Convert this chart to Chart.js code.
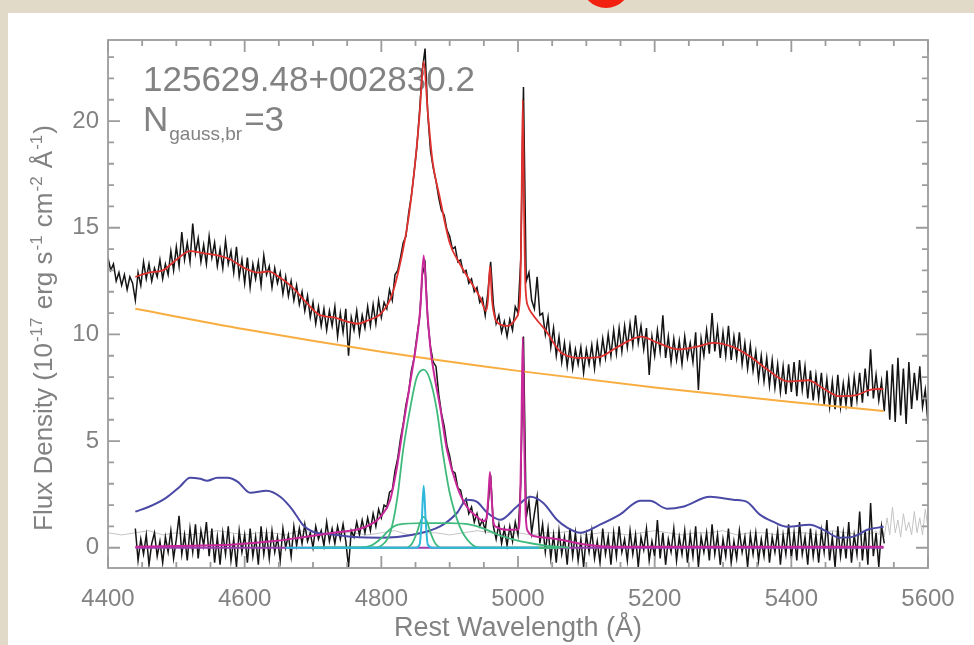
<!DOCTYPE html>
<html>
<head>
<meta charset="utf-8">
<script src="https://cdn.jsdelivr.net/npm/chart.js@4.4.1/dist/chart.umd.min.js"></script>
<style>
  html, body { margin: 0; padding: 0; }
  body { width: 974px; height: 645px; background: #e1dac8; position: relative; overflow: hidden; }
  #panel { position: absolute; left: 8px; top: 13px; width: 966px; height: 632px; background: #fff; }
  #dot { position: absolute; left: 581px; top: -44px; width: 50px; height: 52px; border-radius: 50%; background: #f2200e; }
  #c { position: absolute; left: 0; top: 0; filter: blur(0.4px); }
</style>
</head>
<body>
<div id="panel"></div>
<div id="dot"></div>
<canvas id="c" width="974" height="645"></canvas>
<script>
// ------------------------------------------------------------
// data
// ------------------------------------------------------------
const xTicks = [4400, 4600, 4800, 5000, 5200, 5400, 5600];
const yTicks = [0, 5, 10, 15, 20];

// observed spectrum, 4400..5600 every 4 A
const specStart = 4400, specStep = 4;
const specFlux = [
  13.6, 13.0, 13.3, 12.5, 12.9, 12.3, 12.8, 12.1, 12.7, 12.4,
  11.6, 12.9, 12.3, 13.4, 12.6, 13.3, 12.5, 13.1, 12.7, 13.5,
  12.6, 13.3, 12.8, 13.9, 13.0, 14.1, 13.2, 14.8, 13.5, 14.3,
  13.4, 15.2, 13.8, 14.5, 13.4, 14.2, 13.3, 14.6, 13.6, 14.3,
  13.2, 14.0, 13.1, 14.4, 13.3, 13.9, 12.9, 14.1, 12.7, 13.5,
  12.4, 13.6, 12.2, 13.3, 12.6, 13.4, 12.3, 13.7, 12.8, 13.2,
  12.2, 13.1, 12.4, 12.9, 11.9, 12.7, 11.8, 12.5, 11.6, 12.3,
  11.4, 12.0, 11.1, 11.8, 10.8, 11.5, 10.5, 11.3, 10.4, 11.2,
  10.2, 11.1, 10.4, 11.3, 9.9, 11.0, 10.1, 11.2, 9.0, 10.8,
  10.2, 11.1, 10.0, 10.9, 10.3, 11.3, 10.4, 11.4, 10.5, 11.6,
  10.8, 11.5, 11.2, 12.1, 11.6, 12.8, 13.0, 13.6, 14.3, 14.6,
  15.7, 16.5, 17.6, 18.8, 20.5, 22.4, 23.4, 20.3, 18.6, 17.8,
  17.2, 16.4, 15.8, 15.6, 14.9, 14.6, 14.0, 14.1, 13.4, 13.5,
  12.9, 13.0, 12.4, 12.6, 12.0, 12.2, 11.5, 11.7, 10.9, 12.0,
  13.4, 11.4, 10.5, 10.9, 10.1, 10.6, 9.9, 10.7, 10.2, 11.3,
  11.0, 13.5, 21.6, 12.5, 12.9, 11.6, 11.2, 12.7, 10.9, 11.0,
  10.0, 10.8, 9.4, 10.3, 9.0, 9.9, 8.7, 9.6, 8.5, 9.5,
  8.4, 9.3, 8.6, 9.4, 8.2, 9.3, 8.6, 9.5, 8.4, 9.6,
  8.7, 9.8, 8.9, 10.0, 9.0, 10.2, 9.1, 10.3, 9.2, 10.4,
  9.4, 10.5, 9.5, 10.9, 9.6, 10.4, 9.3, 10.3, 8.1, 9.9,
  9.0, 10.2, 9.2, 10.9, 8.9, 9.9, 8.7, 9.8, 8.8, 9.7,
  8.6, 9.9, 8.9, 9.6, 8.7, 10.1, 7.4, 9.8, 9.0, 10.2,
  9.1, 11.0, 9.2, 10.3, 8.9, 10.1, 9.0, 10.4, 8.8, 9.9,
  8.9, 10.1, 8.6, 9.6, 8.4, 9.5, 8.3, 9.2, 7.9, 9.0,
  7.8, 8.9, 7.6, 8.8, 7.5, 8.6, 7.3, 8.5, 7.2, 8.6,
  7.3, 8.7, 7.1, 8.8, 7.4, 8.5, 7.0, 8.3, 6.9, 8.1,
  7.0, 8.2, 6.7, 7.9, 6.6, 7.8, 6.5, 8.1, 6.6, 7.7,
  6.7, 7.9, 6.6, 8.0, 6.9, 8.2, 6.8, 8.4, 7.1, 9.3,
  7.0, 8.1, 6.9, 7.8, 6.4, 8.3, 6.0, 8.6, 5.9, 8.9,
  6.2, 8.4, 5.8, 8.7, 6.5, 8.2, 6.9, 8.5, 6.6, 7.4,
  5.8
];

// line spectrum (data minus continuum and Fe II), 4440..5536 every 4 A
const residStart = 4440, residStep = 4;
const residFlux = [
  0.9, -0.6, 0.4, -0.3, 0.6, -0.8, 0.2, 0.7, -0.4, 0.3,
  -0.7, 0.5, -0.2, 0.8, -0.5, 0.4, 1.5, -0.3, 0.6, -0.6,
  0.9, -0.2, 1.1, -0.5, 0.8, 0.1, 1.2, -0.4, 0.9, -0.7,
  0.5, -0.8, 0.7, -0.3, 1.0, -0.6, 0.4, -0.9, 0.8, -0.2,
  0.6, -0.7, 0.9, -0.4, 0.5, -0.8, 1.0, -0.3, 0.7, -0.5,
  0.8, -0.2, 0.5, -0.6, 0.9, 0.0, 0.6, -0.4, 1.0, 0.1,
  0.9, 0.2, 1.1, 0.3, 0.7, 0.0, 1.0, 0.4, 0.8, 0.1,
  1.2, 0.3, 0.9, 0.2, 1.0, 0.4, 1.1, 0.3, -0.9, 0.8,
  0.5, 1.2, 0.6, 1.3, 0.7, 1.4, 0.8, 1.6, 1.0, 1.8,
  1.4, 2.0, 1.9, 2.6, 2.7, 3.6, 4.2, 5.1, 5.8, 6.7,
  7.3, 8.3, 8.9, 9.9, 10.8, 12.8, 13.3, 10.6, 9.4, 8.7,
  8.5, 7.2, 6.3, 5.7, 4.8, 4.3, 3.6, 3.5, 2.8, 2.7,
  2.1, 2.3, 1.6, 1.9, 1.2, 1.6, 1.0, 1.3, 0.8, 1.9,
  3.4, 1.0, 0.4, 1.1, 0.2, 0.9, 0.1, 1.0, 0.3, 1.2,
  0.6, 3.0, 9.9, 1.4, 2.2, 0.7, 1.6, 2.4, 0.2, 1.1,
  -0.2, 0.9, -0.5, 0.6, -0.7, 0.8, -0.3, 0.5, -0.8, 0.9,
  -0.4, 0.7, -0.6, 0.4, -0.9, 0.6, -0.2, 0.8, -0.5, 0.3,
  -0.7, 0.9, -0.3, 0.5, -0.8, 0.7, -0.4, 1.0, -0.2, 0.4,
  -0.6, 0.8, -0.3, 0.6, -0.9, 0.5, -0.1, 0.9, -0.6, 0.3,
  -0.4, 1.3, -0.5, 0.7, -0.8, 0.4, -0.2, 0.9, -0.6, 0.5,
  -0.3, 0.8, -0.7, 0.6, -0.4, 1.0, -0.9, 0.5, -0.2, 0.7,
  -0.6, 1.1, -0.3, 0.6, -0.8, 0.4, -0.4, 0.9, -0.7, 0.3,
  -0.5, 0.8, -0.2, 0.5, -0.9, 0.6, -0.3, 0.7, -0.6, 0.4,
  -0.4, 0.9, -0.7, 0.5, -0.2, 0.8, -0.8, 0.6, -0.3, 1.1,
  -0.5, 0.7, -0.6, 1.2, -0.3, 0.5, -0.8, 0.9, -0.4, 0.6,
  -0.7, 0.8, -0.2, 1.3, -0.6, 0.5, -0.9, 1.0, -0.4, 0.7,
  -0.5, 1.2, -0.7, 0.6, -0.3, 1.7, -0.6, 0.8, -0.8, 2.1,
  -0.4, 0.7, -0.9, 1.0, 0.2
];

// light grey residual
const greyWave = [4400, 4420, 4440, 4460, 4480, 4500, 4520, 4540, 4560, 4580,
  4600, 4620, 4640, 4660, 4680, 4700, 4720, 4740, 4760, 4780,
  4800, 4820, 4840, 4860, 4880, 4900, 4920, 4940, 4960, 4980,
  5000, 5020, 5040, 5060, 5080, 5100, 5120, 5140, 5160, 5180,
  5200, 5220, 5240, 5260, 5280, 5300, 5320, 5340, 5360, 5380,
  5400, 5420, 5440, 5460, 5480, 5500, 5520,
  5524, 5528, 5532, 5536, 5540, 5544, 5548, 5552, 5556, 5560,
  5564, 5568, 5572, 5576, 5580, 5584, 5588, 5592, 5596, 5600];
const greyFlux = [0.7, 0.6, 0.7, 0.8, 0.6, 0.7, 0.6, 0.7, 0.8, 0.7,
  0.6, 0.7, 0.7, 0.6, 0.8, 0.7, 0.6, 0.7, 0.7, 0.6,
  0.7, 0.8, 0.6, 0.7, 0.7, 0.6, 0.7, 0.8, 0.7, 0.6,
  0.7, 0.6, 0.7, 0.7, 0.8, 0.6, 0.7, 0.7, 0.6, 0.7,
  0.8, 0.7, 0.6, 0.7, 0.7, 0.8, 0.6, 0.7, 0.7, 0.6,
  0.7, 0.7, 0.6, 0.8, 0.7, 0.6, 0.7,
  0.8, 0.6, 1.1, 0.5, 1.4, 0.6, 1.9, 0.7, 1.3, 0.5,
  1.6, 0.8, 1.2, 0.6, 1.7, 0.7, 1.4, 0.6, 1.8, 0.9];

// total model
const fitWave = [4440, 4460, 4480, 4500, 4520, 4540, 4560, 4580, 4600, 4620,
  4635, 4650, 4670, 4690, 4710, 4730, 4750, 4765, 4780, 4800,
  4815, 4830, 4840, 4850, 4856, 4862, 4868, 4875, 4885, 4900,
  4915, 4930, 4945, 4953, 4956, 4959, 4962, 4966, 4972, 4985,
  4998, 5003, 5005, 5007, 5009, 5011, 5015, 5020, 5040, 5065,
  5095, 5120, 5145, 5180, 5205, 5235, 5265, 5285, 5315, 5340,
  5365, 5395, 5425, 5445, 5470, 5495, 5515, 5535];
const fitFlux = [12.7, 12.9, 13.0, 13.5, 13.9, 13.8, 13.7, 13.5, 13.1, 12.9,
  12.95, 12.7, 12.2, 11.5, 10.9, 10.8, 10.6, 10.5, 10.65, 11.0,
  11.8, 13.7, 15.5, 18.2, 20.3, 22.8, 20.4, 18.1, 16.5, 14.3,
  13.3, 12.5, 11.7, 11.1, 11.6, 13.2, 11.6, 10.8, 10.5, 10.4,
  10.8, 11.8, 15.5, 21.0, 15.5, 12.2, 11.3, 11.0, 10.2, 9.1,
  8.9, 8.95, 9.4, 9.9, 9.6, 9.3, 9.45, 9.6, 9.4, 8.95,
  8.35, 7.8, 7.85, 7.5, 7.1, 7.15, 7.4, 7.45];

// power-law continuum
const contWave = [4440, 4600, 4800, 5000, 5200, 5400, 5535];
const contFlux = [11.2, 10.24, 9.19, 8.29, 7.51, 6.83, 6.41];

// Fe II template
const feWave = [4440, 4460, 4485, 4505, 4520, 4535, 4545, 4560, 4575, 4590,
  4608, 4632, 4652, 4670, 4685, 4700, 4730, 4760, 4800, 4846,
  4886, 4911, 4925, 4940, 4955, 4974, 4998, 5018, 5037, 5057,
  5072, 5091, 5120, 5149, 5179, 5193, 5218, 5241, 5281, 5315,
  5335, 5354, 5373, 5394, 5427, 5447, 5471, 5491, 5511, 5535];
const feFlux = [1.69, 1.92, 2.34, 2.86, 3.28, 3.23, 3.14, 3.28, 3.28, 3.09,
  2.58, 2.67, 2.39, 1.78, 1.08, 0.75, 0.62, 0.5, 0.47, 0.61,
  1.0, 1.64, 2.25, 2.15, 1.64, 1.31, 1.92, 2.39, 2.1, 1.31,
  0.94, 0.70, 1.08, 1.55, 2.2, 2.2, 1.83, 1.92, 2.39, 2.25,
  2.15, 1.55, 1.22, 0.98, 1.08, 0.84, 0.47, 0.52, 0.84, 0.98];

// summed emission-line model
const lineWave = [4440, 4500, 4580, 4640, 4680, 4730, 4770, 4790, 4800, 4813,
  4823, 4832, 4842, 4852, 4857, 4862, 4867, 4872, 4878, 4886,
  4896, 4911, 4925, 4940, 4950, 4954, 4957, 4959, 4961, 4964,
  4968, 4984, 5000, 5003, 5005, 5007, 5009, 5011, 5014, 5028,
  5062, 5100, 5140, 5535];
const lineFlux = [0.05, 0.08, 0.14, 0.3, 0.47, 0.7, 0.9, 1.2, 1.5, 2.25,
  3.8, 5.7, 7.7, 9.75, 11.2, 13.7, 11.2, 9.3, 8.0, 6.6,
  4.6, 2.86, 1.92, 1.45, 1.25, 1.4, 2.6, 3.55, 2.6, 1.2,
  0.98, 0.84, 0.85, 1.8, 5.5, 9.85, 5.5, 1.8, 0.8, 0.52,
  0.37, 0.14, 0.05, 0.05];

// broad H-beta gaussians
const broad1Wave = [4700, 4790, 4800, 4813, 4823, 4832, 4842, 4852, 4862, 4871, 4881, 4890, 4900, 4915, 4930, 4945, 5060];
const broad1Flux = [0, 0, 0.1, 0.7, 2.25, 4.6, 6.5, 8.0, 8.35, 7.9, 6.5, 4.45, 2.58, 0.98, 0.23, 0, 0];
const broad2Wave = [4700, 4760, 4785, 4800, 4812, 4825, 4862, 4900, 4930, 4950, 4970, 4990, 5010, 5040, 5075];
const broad2Flux = [0, 0, 0.1, 0.45, 0.85, 1.08, 1.15, 1.15, 1.08, 0.9, 0.62, 0.42, 0.26, 0.1, 0];
const broad3Wave = [4700, 4835, 4845, 4852, 4857, 4862, 4867, 4872, 4879, 4890, 5060];
const broad3Flux = [0, 0, 0.2, 0.7, 1.2, 1.45, 1.2, 0.7, 0.2, 0, 0];

// narrow H-beta
const narrowWave = [4660, 4850, 4856, 4859, 4862, 4865, 4868, 4875, 5030];
const narrowFlux = [0, 0, 0.15, 1.2, 2.9, 1.2, 0.15, 0, 0];

// zero level
const zeroWave = [4440, 5535];
const zeroFlux = [0, 0];

const xMinorStep = 50, yMinorStep = 1;
const txtColor = '#828282';
const fontName = '"Liberation Sans", Arial, sans-serif';

// ------------------------------------------------------------
// helpers
// ------------------------------------------------------------
function pts(wave, flux) {
    return flux.map(function(f, i) { return { x: wave[i], y: f }; });
}
function gridPts(start, step, flux) {
    return flux.map(function(f, i) { return { x: start + i * step, y: f }; });
}
function line(data, color, width, order, smooth) {
    return {
        data: data,
        borderColor: color,
        borderWidth: width,
        pointRadius: 0,
        fill: false,
        order: order,
        tension: 0,
        cubicInterpolationMode: smooth ? 'monotone' : 'default'
    };
}

// ------------------------------------------------------------
// frame, inward ticks and texts
// ------------------------------------------------------------
const idlBox = {
    id: 'idlBox',
    beforeDatasetsDraw: function(chart) {
        const ctx = chart.ctx, a = chart.chartArea;
        ctx.save();
        ctx.fillStyle = txtColor;
        ctx.textBaseline = 'alphabetic';
        ctx.textAlign = 'left';
        ctx.font = '35px ' + fontName;
        ctx.fillText('125629.48+002830.2', a.left + 35, 91);
        ctx.fillText('N', a.left + 35, 131);
        const nW = ctx.measureText('N').width;
        ctx.font = '19px ' + fontName;
        ctx.fillText('gauss,br', a.left + 35 + nW + 1, 140);
        const sW = ctx.measureText('gauss,br').width;
        ctx.font = '35px ' + fontName;
        ctx.fillText('=3', a.left + 35 + nW + sW + 3, 131);
        ctx.restore();
    },
    afterDatasetsDraw: function(chart) {
        const ctx = chart.ctx, a = chart.chartArea;
        const x = chart.scales.x, y = chart.scales.y;
        ctx.save();
        ctx.strokeStyle = '#9c9c9c';
        ctx.lineWidth = 1.8;
        ctx.strokeRect(a.left, a.top, a.right - a.left, a.bottom - a.top);
        ctx.beginPath();
        for (let v = x.min; v <= x.max + 0.01; v += xMinorStep) {
            const px = x.getPixelForValue(v);
            const len = xTicks.indexOf(v) >= 0 ? 12 : 6;
            ctx.moveTo(px, a.bottom); ctx.lineTo(px, a.bottom - len);
            ctx.moveTo(px, a.top); ctx.lineTo(px, a.top + len);
        }
        for (let v = Math.ceil(y.min); v <= y.max; v += yMinorStep) {
            const py = y.getPixelForValue(v);
            const len = yTicks.indexOf(v) >= 0 ? 12 : 6;
            ctx.moveTo(a.left, py); ctx.lineTo(a.left + len, py);
            ctx.moveTo(a.right, py); ctx.lineTo(a.right - len, py);
        }
        ctx.stroke();

        // rotated y title with superscripts
        const parts = [
            ['Flux Density (10', false], ['-17', true], [' erg s', false], ['-1', true],
            [' cm', false], ['-2', true], [' \u00c5', false], ['-1', true], [')', false]
        ];
        const big = '26px ' + fontName, small = '17px ' + fontName;
        let total = 0;
        parts.forEach(function(p) {
            ctx.font = p[1] ? small : big;
            total += ctx.measureText(p[0]).width + (p[1] ? 2 : 0);
        });
        ctx.translate(52, 328);
        ctx.rotate(-Math.PI / 2);
        ctx.fillStyle = txtColor;
        ctx.textBaseline = 'alphabetic';
        let cx = -total / 2;
        parts.forEach(function(p) {
            ctx.font = p[1] ? small : big;
            ctx.fillText(p[0], cx + (p[1] ? 1 : 0), p[1] ? -10 : 0);
            cx += ctx.measureText(p[0]).width + (p[1] ? 2 : 0);
        });
        ctx.restore();
    }
};

// ------------------------------------------------------------
// chart
// ------------------------------------------------------------
new Chart(document.getElementById('c'), {
    type: 'line',
    data: {
        datasets: [
            line(pts(fitWave, fitFlux), '#e0322f', 1.8, 0, true),
            line(pts(lineWave, lineFlux), '#c9289a', 2, 1, true),
            line(pts(narrowWave, narrowFlux), '#2fb8dc', 2, 2, true),
            line(pts(broad3Wave, broad3Flux), '#3fba7c', 1.8, 3, true),
            line(pts(broad2Wave, broad2Flux), '#3fba7c', 1.8, 3, true),
            line(pts(broad1Wave, broad1Flux), '#3fba7c', 1.8, 3, true),
            line(pts(feWave, feFlux), '#4a4aa6', 2, 4, true),
            line(pts(contWave, contFlux), '#f8ad40', 2, 5, true),
            line(pts(zeroWave, zeroFlux), '#9a3fb0', 2, 6, false),
            line(gridPts(specStart, specStep, specFlux), '#141414', 1.5, 7, false),
            line(gridPts(residStart, residStep, residFlux), '#141414', 1.5, 8, false),
            line(pts(greyWave, greyFlux), '#c4c4c4', 1, 9, false)
        ]
    },
    options: {
        responsive: false,
        animation: false,
        devicePixelRatio: 1,
        layout: { padding: { left: 0, top: 40, right: 46, bottom: 0 } },
        plugins: { legend: { display: false }, tooltip: { enabled: false } },
        scales: {
            x: {
                type: 'linear',
                min: 4400,
                max: 5600,
                afterBuildTicks: function(s) { s.ticks = xTicks.map(function(v) { return { value: v }; }); },
                afterFit: function(s) { s.height = 77; },
                grid: { display: false, drawTicks: false },
                border: { display: false },
                ticks: {
                    color: txtColor,
                    font: { family: fontName, size: 24 },
                    padding: 17,
                    maxRotation: 0,
                    autoSkip: false,
                    callback: function(v) { return String(v); }
                },
                title: {
                    display: true,
                    text: 'Rest Wavelength (\u00c5)',
                    color: txtColor,
                    font: { family: fontName, size: 27 },
                    padding: { top: 0, bottom: 0 }
                }
            },
            y: {
                type: 'linear',
                min: -0.95,
                max: 23.8,
                afterBuildTicks: function(s) { s.ticks = yTicks.map(function(v) { return { value: v }; }); },
                afterFit: function(s) { s.width = 108; },
                grid: { display: false, drawTicks: false },
                border: { display: false },
                ticks: {
                    color: txtColor,
                    font: { family: fontName, size: 24 },
                    padding: 9,
                    callback: function(v) { return String(v); }
                }
            }
        }
    },
    plugins: [idlBox]
});
</script>
</body>
</html>
